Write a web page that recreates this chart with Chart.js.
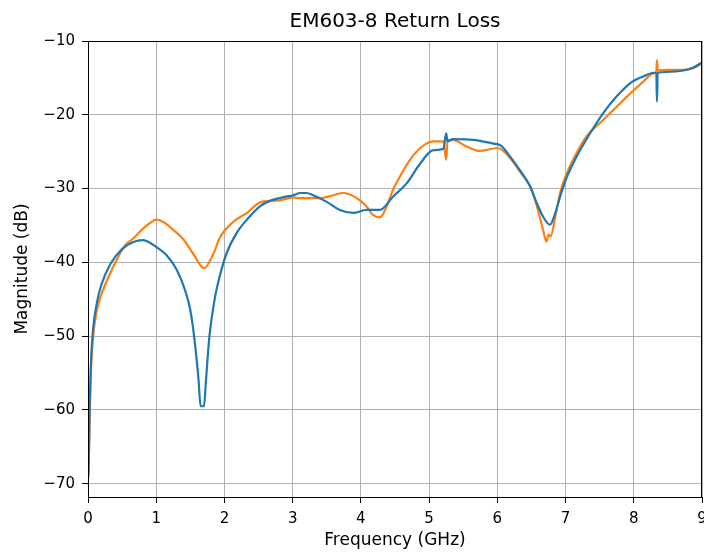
<!DOCTYPE html>
<html>
<head>
<meta charset="utf-8">
<script src="https://cdn.jsdelivr.net/npm/chart.js@4"></script>
<style>
	body { margin: 0; background: #fff; }
	canvas { display: block; }
</style>
</head>
<body>
<canvas id="rl" width="704" height="554"></canvas>
<script>
// frequencies in GHz, return loss in dB
const freqBlue = [0, 0.01, 0.025, 0.04, 0.07, 0.13, 0.19, 0.33, 0.5, 0.71, 0.81, 0.9, 1.0, 1.15, 1.3, 1.42, 1.5, 1.555, 1.62, 1.65, 1.7, 1.73, 1.78, 1.86, 1.93, 2.03, 2.18, 2.33, 2.52, 2.72, 2.9, 3.01, 3.11, 3.2, 3.3, 3.5, 3.69, 3.89, 4.08, 4.28, 4.47, 4.67, 4.87, 5.06, 5.21, 5.25, 5.27, 5.35, 5.65, 5.94, 6.04, 6.19, 6.33, 6.48, 6.58, 6.67, 6.77, 6.85, 6.92, 7.02, 7.16, 7.36, 7.55, 7.75, 7.95, 8.14, 8.29, 8.33, 8.34, 8.35, 8.48, 8.73, 8.87, 9.0];
const magBlue = [-69, -67.5, -59.5, -54.5, -49.5, -45.5, -43.2, -40.2, -38.2, -37.1, -37.0, -37.3, -37.9, -39.0, -41.0, -43.7, -46.5, -50, -55.9, -59.5, -59.5, -55.9, -50, -44.8, -41.9, -38.8, -36.0, -34.2, -32.4, -31.5, -31.1, -30.9, -30.6, -30.6, -30.9, -31.8, -32.9, -33.3, -32.9, -32.9, -31.1, -29.3, -26.6, -24.8, -24.6, -22.5, -23.6, -23.3, -23.4, -23.9, -24.1, -25.7, -27.5, -29.7, -32.0, -33.8, -34.9, -33.3, -31.1, -28.4, -25.7, -22.5, -19.8, -17.5, -15.7, -14.8, -14.3, -14.3, -18.2, -14.3, -14.2, -14.0, -13.6, -12.9];

const freqOrange = [0, 0.01, 0.025, 0.04, 0.07, 0.13, 0.19, 0.37, 0.55, 0.66, 0.81, 0.92, 1.0, 1.1, 1.25, 1.4, 1.54, 1.7, 1.84, 1.93, 2.13, 2.33, 2.54, 2.81, 3.01, 3.11, 3.4, 3.6, 3.74, 3.94, 4.08, 4.18, 4.28, 4.38, 4.47, 4.57, 4.72, 4.87, 5.06, 5.21, 5.25, 5.27, 5.35, 5.55, 5.74, 6.0, 6.19, 6.33, 6.48, 6.58, 6.67, 6.72, 6.75, 6.78, 6.85, 6.92, 7.02, 7.16, 7.31, 7.55, 7.75, 7.95, 8.14, 8.29, 8.33, 8.34, 8.35, 8.48, 8.73, 8.87, 9.0];
const magOrange = [-69.5, -68, -60.5, -55.5, -50.5, -46.5, -44.5, -40.6, -37.6, -36.8, -35.4, -34.6, -34.2, -34.5, -35.6, -36.9, -38.8, -40.8, -38.8, -36.7, -34.5, -33.3, -31.8, -31.6, -31.2, -31.3, -31.3, -30.9, -30.6, -31.3, -32.4, -33.6, -33.9, -32.4, -30.2, -28.4, -26.1, -24.5, -23.6, -23.6, -26.1, -23.5, -23.4, -24.3, -24.9, -24.5, -25.9, -27.7, -29.7, -32.4, -35.6, -37.2, -36.2, -36.5, -33.8, -30.6, -27.9, -25.2, -22.9, -20.7, -18.9, -17.1, -15.5, -14.4, -14.2, -12.6, -14.0, -13.9, -13.9, -13.7, -13.0];

const xTicks = [0, 1, 2, 3, 4, 5, 6, 7, 8, 9];
const yTicks = [-70, -60, -50, -40, -30, -20, -10];

const FONT = "'DejaVu Sans', sans-serif";

function toPoints(xs, ys) {
	return xs.map((x, i) => ({ x: x, y: ys[i] }));
}

// matplotlib style box around the axes
const frame = {
	id: 'frame',
	afterDraw(chart) {
		const a = chart.chartArea;
		const ctx = chart.ctx;
		ctx.save();
		ctx.strokeStyle = '#000';
		ctx.lineWidth = 1;
		ctx.strokeRect(a.left + 0.5, a.top + 0.5, a.right - a.left - 1, a.bottom - a.top);
		ctx.restore();
	}
};

new Chart(document.getElementById('rl'), {
	type: 'line',
	data: {
		datasets: [{
			label: 'Port 1',
			data: toPoints(freqBlue, magBlue),
			borderColor: '#1f77b4',
			borderWidth: 2.2,
			pointRadius: 0,
			cubicInterpolationMode: 'monotone'
		}, {
			label: 'Port 2',
			data: toPoints(freqOrange, magOrange),
			borderColor: '#ff7f0e',
			borderWidth: 2.2,
			pointRadius: 0,
			cubicInterpolationMode: 'monotone'
		}]
	},
	options: {
		responsive: false,
		animation: false,
		layout: { padding: { left: 0, right: 2, top: 0, bottom: 0 } },
		plugins: {
			legend: { display: false },
			tooltip: { enabled: false },
			title: {
				display: true,
				fullSize: false,
				text: 'EM603-8 Return Loss',
				color: '#000',
				font: { family: FONT, size: 20, weight: 'normal' },
				padding: { top: 9.5, bottom: 7.5 }
			}
		},
		scales: {
			x: {
				type: 'linear',
				min: 0,
				max: 9,
				afterBuildTicks: (s) => { s.ticks = xTicks.map(v => ({ value: v })); },
				afterFit: (s) => { s.height = 57; s.paddingLeft = 0; s.paddingRight = 0; },
				grid: { color: '#b0b0b0', lineWidth: 1, tickColor: '#000', tickLength: 6 },
				border: { color: '#000', width: 1 },
				ticks: {
					color: '#000',
					padding: 7,
					maxRotation: 0,
					font: { family: FONT, size: 15 },
					callback: (v) => String(v)
				},
				title: {
					display: true,
					text: 'Frequency (GHz)',
					color: '#000',
					font: { family: FONT, size: 17 },
					padding: { top: 0, bottom: 3 }
				}
			},
			y: {
				type: 'linear',
				min: -71.8,
				max: -10,
				afterBuildTicks: (s) => { s.ticks = yTicks.map(v => ({ value: v })); },
				afterFit: (s) => { s.width = 88; },
				grid: { color: '#b0b0b0', lineWidth: 1, tickColor: '#000', tickLength: 6 },
				border: { color: '#000', width: 1 },
				ticks: {
					color: '#000',
					padding: 7,
					font: { family: FONT, size: 15 },
					callback: (v) => String(v).replace('-', '\u2212')
				},
				title: {
					display: true,
					text: 'Magnitude (dB)',
					color: '#000',
					font: { family: FONT, size: 17 },
					padding: { top: 12, bottom: 0 }
				}
			}
		}
	},
	plugins: [frame]
});
</script>
</body>
</html>
